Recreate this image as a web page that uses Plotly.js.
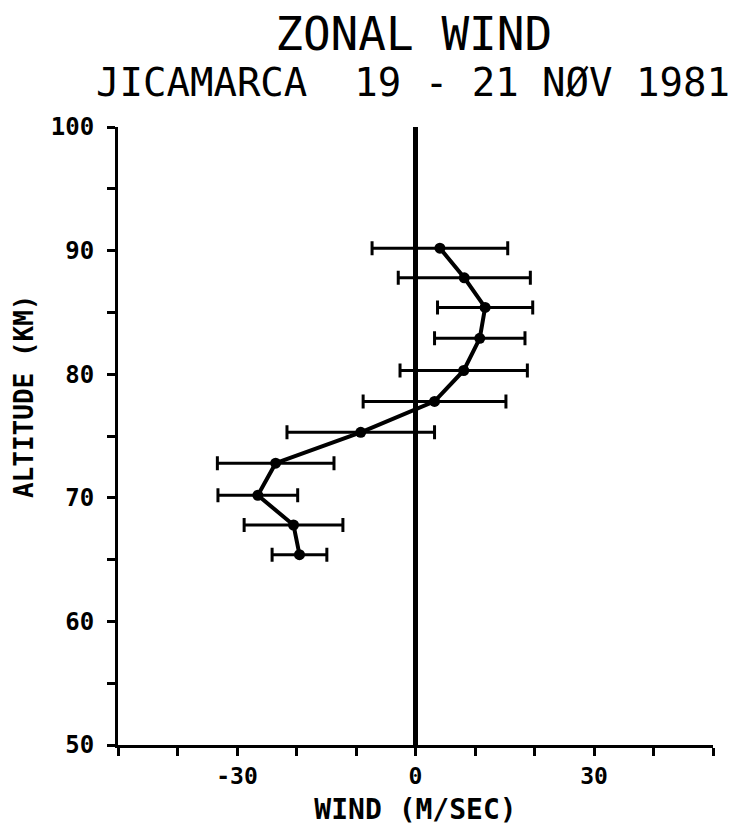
<!DOCTYPE html>
<html>
<head>
<meta charset="utf-8">
<script src="https://cdn.plot.ly/plotly-3.0.1.min.js"></script>
<style>
html,body{margin:0;padding:0;background:#fff;}
#chart{width:734px;height:826px;}
</style>
</head>
<body>
<div id="chart"></div>
<script>
// Data
var altitude = [90.2, 87.8, 85.4, 82.9, 80.3, 77.8, 75.3, 72.8, 70.2, 67.8, 65.4];
var wind     = [4.1, 8.2, 11.7, 10.8, 8.1, 3.2, -9.2, -23.5, -26.5, -20.5, -19.5];
var windErr  = [11.4, 11.1, 8.0, 7.6, 10.7, 12.0, 12.4, 9.8, 6.7, 8.3, 4.6];

var xTickVals = [-50, -40, -30, -20, -10, 0, 10, 20, 30, 40, 50];
var xTickText = ['', '', '-30', '', '', '0', '', '', '30', '', ''];
var yTickVals = [50, 55, 60, 65, 70, 75, 80, 85, 90, 95, 100];
var yTickText = ['50', '', '60', '', '70', '', '80', '', '90', '', '100'];

var titleMain = 'ZONAL WIND';
var titleSub = 'JICAMARCA\u00a0\u00a019\u00a0-\u00a021\u00a0NØV\u00a01981';
var xTitle = 'WIND (M/SEC)';
var yTitle = 'ALTITUDE (KM)';

var trace = {
  x: wind,
  y: altitude,
  type: 'scatter',
  mode: 'lines+markers',
  line: {color: '#000', width: 4},
  marker: {color: '#000', size: 11},
  error_x: {type: 'data', array: windErr, visible: true, color: '#000', thickness: 3, width: 7},
  hoverinfo: 'skip',
  showlegend: false
};

var mono = 'DejaVu Sans Mono, monospace';

var layout = {
  width: 734,
  height: 826,
  margin: {l: 118, r: 21, t: 127, b: 81},
  paper_bgcolor: '#fff',
  plot_bgcolor: '#fff',
  title: {
    text: titleMain,
    font: {family: mono, size: 46, color: '#000'},
    x: 0.497, xref: 'paper',
    y: (826 - 34) / 826, yref: 'container', yanchor: 'middle'
  },
  annotations: [{
    text: titleSub,
    xref: 'paper', yref: 'paper',
    x: 0.495, y: (745 - 82) / 618,
    xanchor: 'center', yanchor: 'middle',
    showarrow: false,
    font: {family: mono, size: 39, color: '#000'}
  }, {
    text: yTitle,
    xref: 'paper', yref: 'paper',
    x: (24 - 118) / 595, y: (745 - 396) / 618,
    xanchor: 'center', yanchor: 'middle',
    textangle: -90,
    showarrow: false,
    font: {family: mono, size: 26, color: '#000', weight: 'bold'}
  }],
  xaxis: {
    range: [-50, 50],
    tickmode: 'array',
    tickvals: xTickVals,
    ticktext: xTickText,
    ticks: 'outside',
    ticklen: 8,
    tickwidth: 3,
    tickcolor: '#000',
    showline: true,
    linecolor: '#000',
    linewidth: 3,
    showgrid: false,
    zeroline: true,
    zerolinecolor: '#000',
    zerolinewidth: 5,
    tickfont: {family: mono, size: 23, color: '#000', weight: 'bold'},
    title: {text: xTitle, font: {family: mono, size: 28, color: '#000', weight: 'bold'}, standoff: 12},
    fixedrange: true
  },
  yaxis: {
    range: [50, 100],
    tickmode: 'array',
    tickvals: yTickVals,
    ticktext: yTickText,
    ticks: 'outside',
    ticklen: 8,
    tickwidth: 3,
    tickcolor: '#000',
    showline: true,
    linecolor: '#000',
    linewidth: 3,
    showgrid: false,
    zeroline: false,
    ticklabelstandoff: 8,
    tickfont: {family: mono, size: 24, color: '#000', weight: 'bold'},
    fixedrange: true
  }
};

Plotly.newPlot('chart', [trace], layout, {displayModeBar: false, staticPlot: true});
</script>
</body>
</html>
